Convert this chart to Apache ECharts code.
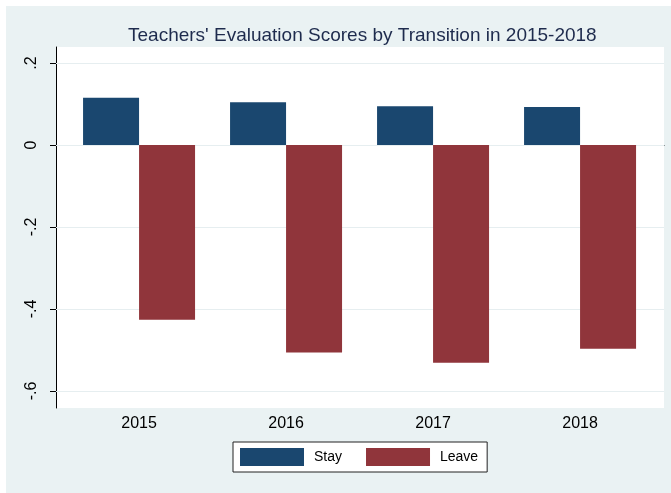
<!DOCTYPE html>
<html>
<head>
<meta charset="utf-8">
<script src="https://cdn.jsdelivr.net/npm/echarts@6/dist/echarts.min.js"></script>
<style>
  html, body { margin: 0; padding: 0; background: #ffffff; }
  #chart { width: 671px; height: 493px; }
</style>
</head>
<body>
<div id="chart"></div>
<script>
  var years = [2015, 2016, 2017, 2018]
  var stay = [0.115, 0.1045, 0.0946, 0.093]
  var leave = [-0.426, -0.506, -0.531, -0.497]
  var yTicks = [-0.6, -0.4, -0.2, 0, 0.2]

  function pairs(vals) {
    return years.map(function (y, i) { return [y, vals[i]] })
  }

  function fmt(v) {
    if (Math.abs(v) < 1e-9) return '0'
    return (v < 0 ? '-' : '') + String(Math.abs(v)).replace(/^0/, '')
  }

  var chart = echarts.init(document.getElementById('chart'))
  chart.setOption({
    backgroundColor: '#ffffff',
    animation: false,
    graphic: [{
      type: 'rect', left: 6, top: 6, z: -10,
      shape: { width: 665, height: 487 },
      style: { fill: '#EAF2F3' }
    }],
    title: {
      text: "Teachers' Evaluation Scores by Transition in 2015-2018",
      left: 123, top: 21,
      textStyle: { color: '#1e2b4d', fontSize: 19, fontWeight: 'normal', fontFamily: 'Liberation Sans, Arial' }
    },
    legend: {
      left: 233, top: 442,
      padding: [6, 9, 6, 7],
      backgroundColor: '#ffffff',
      borderColor: '#222222', borderWidth: 1, borderRadius: 0,
      itemWidth: 64, itemHeight: 18, itemGap: 24,
      icon: 'rect',
      textStyle: { color: '#000000', fontSize: 14, fontFamily: 'Liberation Sans, Arial', padding: [0, 0, 0, 5] },
      data: ['Stay', 'Leave']
    },
    grid: {
      left: 56, right: 7, top: 47, bottom: 85,
      show: true, backgroundColor: '#ffffff', borderWidth: 0
    },
    xAxis: {
      type: 'value',
      min: 2014.435, max: 2018.571,
      splitLine: { show: false },
      axisLine: { show: true, lineStyle: { color: '#000000', width: 1 } },
      axisTick: { show: false },
      axisLabel: {
        customValues: years,
        color: '#000000', fontSize: 16, margin: 8,
        fontFamily: 'Liberation Sans, Arial',
        formatter: function (v) { return String(v) }
      }
    },
    yAxis: {
      type: 'value',
      min: -0.6416, max: 0.2391,
      splitLine: { show: false },
      axisLine: { show: true, lineStyle: { color: '#000000', width: 1 } },
      axisTick: { show: true, customValues: yTicks, length: 6, lineStyle: { color: '#000000' } },
      axisLabel: {
        customValues: yTicks,
        rotate: 90, margin: 16,
        color: '#000000', fontSize: 16,
        fontFamily: 'Liberation Sans, Arial',
        formatter: fmt
      }
    },
    series: [
      {
        name: 'Stay', type: 'bar',
        data: pairs(stay),
        barWidth: 56, barGap: '0%',
        itemStyle: { color: '#1a476f' },
        z: 3,
        markLine: {
          silent: true, symbol: 'none', z: 1,
          label: { show: false },
          lineStyle: { color: '#E6EEF0', width: 1, type: 'solid' },
          data: yTicks.map(function (t) { return { yAxis: t } })
        }
      },
      {
        name: 'Leave', type: 'bar',
        data: pairs(leave),
        barWidth: 56, barGap: '0%',
        itemStyle: { color: '#90353b' },
        z: 3
      }
    ]
  })
</script>
</body>
</html>
